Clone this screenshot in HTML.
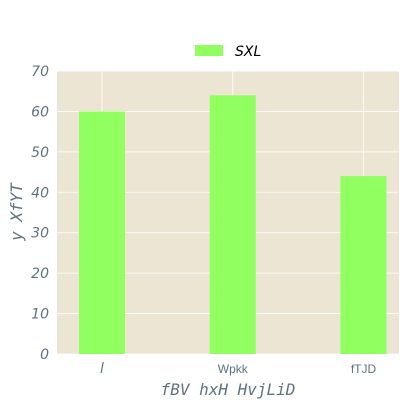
<!DOCTYPE html>
<html><head><meta charset="utf-8"><style>
body{margin:0;background:#fff;width:408px;height:408px;overflow:hidden}
</style></head><body>
<svg id="chart" width="408" height="408" xmlns="http://www.w3.org/2000/svg">
<rect x="57" y="71" width="342" height="283" fill="#ede5d4"/>
<g id="grid"></g>
<g id="bars"></g>
<g id="ticks"></g>
<g>
<rect x="195" y="45" width="28" height="11" fill="#90ff5f"/>
<text x="235" y="56" font-family="DejaVu Sans, sans-serif" font-style="oblique" font-size="14" fill="#000">SXL</text>
</g>
<text x="228" y="395" text-anchor="middle" font-family="DejaVu Sans Mono, monospace" font-style="oblique" font-size="16" fill="#5f737f">fBV hxH HvjLiD</text>
<text transform="translate(22,212) rotate(-90)" text-anchor="middle" font-family="DejaVu Sans Mono, monospace" font-style="oblique" font-size="16" fill="#5f737f">y XfYT</text>
</svg>
<script>
const categories=["l","Wpkk","fTJD"];
const values=[60,64,44];
const yTicks=[0,10,20,30,40,50,60,70];
const NS="http://www.w3.org/2000/svg";
const x0=57,x1=399,y0=354,y1=71,yMax=70;
function yS(v){return y0-(v/yMax)*(y0-y1);}
const step=(x1-x0)/categories.length*0.9+5;
function xS(i){return 102+i*130.75;}
const grid=document.getElementById('grid'),bars=document.getElementById('bars'),ticks=document.getElementById('ticks');
function mk(tag,attrs,parent){const e=document.createElementNS(NS,tag);for(const k in attrs)e.setAttribute(k,attrs[k]);parent.appendChild(e);return e;}
yTicks.forEach(t=>{
 const l=mk('line',{x1:x0,x2:x1,y1:yS(t),y2:yS(t),stroke:'#fff','stroke-width':0.8},grid);
 
 
 const tx=mk('text',{x:49,y:yS(t)+5,'text-anchor':'end','font-family':'DejaVu Sans, sans-serif','font-style':'oblique','font-size':14,fill:'#5f737f'},ticks);
 tx.textContent=t;
 
 
});
categories.forEach((c,i)=>{
 const cx=xS(i);
 const g=mk('line',{x1:cx,x2:cx,y1:y1,y2:y0,stroke:'#fff','stroke-width':0.8},grid);
 
 
 const r=mk('rect',{x:cx-23,y:yS(values[i]),width:46,height:y0-yS(values[i]),fill:'#90ff5f'},bars);
 
 
 const tx=mk('text',{x:cx,y:373,'text-anchor':'middle','font-family':i==0?'DejaVu Sans, sans-serif':'Liberation Sans, sans-serif','font-style':i==0?'oblique':'normal','font-size':i==0?14:12,fill:'#5f737f'},ticks);
 tx.textContent=c;
 
 
});
</script>
</body></html>
